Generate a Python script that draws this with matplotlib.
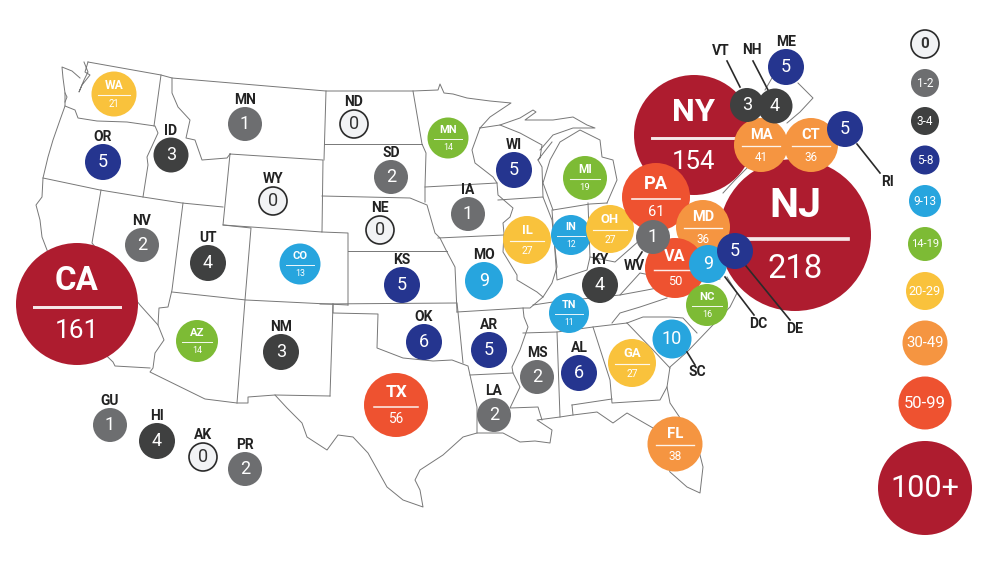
"""US map of counts per state, drawn as coloured bubbles."""

import matplotlib

matplotlib.use("Agg")
import matplotlib.pyplot as plt
from matplotlib.patches import Circle

plt.rcParams["font.family"] = ["Roboto", "DejaVu Sans"]

# drawing order matters: later bubbles sit on top
STATES = ["CA", "TX", "WA", "OR", "ID", "MN", "WY", "NV", "UT", "CO", "AZ", "NM",
          "ND", "SD", "NE", "KS", "OK", "MN", "IA", "MO", "AR", "LA", "WI", "IL",
          "MI", "IN", "OH", "KY", "TN", "MS", "AL", "GA", "FL", "SC",
          "NJ", "NY", "MA", "CT", "VT", "NH", "RI", "ME", "PA", "MD", "VA", "WV",
          "DC", "NC", "DE", "GU", "HI", "AK", "PR"]
COUNTS = [161, 56, 21, 5, 3, 1, 0, 2, 4, 13, 14, 3,
          0, 2, 0, 5, 6, 14, 1, 9, 5, 2, 5, 27,
          19, 12, 27, 4, 11, 2, 6, 27, 38, 10,
          218, 154, 41, 36, 3, 4, 5, 5, 61, 36, 50, 1,
          9, 16, 5, 1, 4, 0, 2]

LEGEND_LABELS = ["0", "1-2", "3-4", "5-8", "9-13", "14-19", "20-29", "30-49", "50-99", "100+"]
BIN_LOWER = [0, 1, 3, 5, 9, 14, 20, 30, 50, 100]
BIN_COLORS = ["#f2f3f5", "#6d6e70", "#3f4040", "#25358f", "#27a5de",
              "#7dbb35", "#f9c23c", "#f59541", "#ee5230", "#ae1c2f"]

# layout, in pixels of the 1000x569 picture
BUBBLE_X = [77, 396, 114, 103, 171, 245, 273, 142, 208, 300, 197, 281,
            354, 391, 380, 402, 424, 448, 468, 484, 489, 494, 514, 527,
            585, 571, 610, 600, 569, 537, 579, 632, 675, 672,
            795, 694, 761, 811, 747, 775, 845, 786, 656, 703, 675, 653,
            708, 707, 735, 110, 157, 203, 245]
BUBBLE_Y = [304, 405, 94, 162, 155, 124, 201, 245, 263, 264, 341, 352,
            124, 177, 230, 285, 342, 138, 214, 281, 350, 415, 170, 240,
            178, 235, 229, 285, 313, 377, 373, 363, 444, 339,
            235, 135, 145, 145, 105, 106, 129, 67, 197, 227, 268, 237,
            264, 305, 251, 425, 441, 457, 469]
BUBBLE_R = [61, 32, 22.5, 18, 17.5, 17, 15, 17, 18, 20.5, 21, 18,
            15, 17, 15, 18, 18, 20.5, 17, 19, 18, 17, 18, 24,
            22, 20, 24, 18, 20, 17, 18, 24, 27.5, 19.5,
            76, 60, 27, 27, 17, 17.5, 18, 18, 34, 27, 30, 17,
            19, 21, 18, 17, 18, 15, 17]

LEGEND_Y = [44, 83, 121, 160, 201, 244, 291, 343, 403, 488]
LEGEND_R = [15, 14, 14, 14.5, 16, 17, 19, 22.5, 26.5, 47]
LEGEND_SIZE = [11, 8.5, 8.5, 8.5, 8.5, 8, 9.2, 10.7, 12, 22]

# states whose code sits away from the bubble on a leader line
LEADERS = {
    "VT": ((721, 51), (727, 61), (740, 87)),
    "NH": ((752, 50), (753, 61), (768, 90)),
    "RI": ((887, 182), (857, 144), (880, 173)),
    "DC": ((758, 324), (725, 277), (754, 315)),
    "DE": ((795, 329), (746, 266), (790, 320)),
    "SC": ((697, 372), (687, 352), (695, 365)),
    "WV": ((634, 266), (642, 252), (637, 260)),
}

MAP_LINES = [
    # northern border and Great Lakes shore
    [(88, 62), (161, 75), (172, 78), (326, 91), (413, 91),
     (438, 90), (440, 84), (444, 93), (453, 94), (467, 98), (490, 101), (511, 103), (490, 117), (480, 128)],
    # west coast
    [(80, 78), (72, 71), (62, 67), (63, 78), (65, 93), (65, 106), (60, 120), (53, 140), (48, 157), (43, 178), (42, 197),
     (36, 205), (40, 220), (42, 237), (47, 250), (60, 285), (85, 335), (113, 362), (115, 366), (150, 368)],
    # Puget Sound
    [(88, 62), (85, 72), (90, 75), (82, 85), (79, 92), (84, 80), (88, 72), (84, 62)],
    [(65, 93), (67, 97), (65, 102)],
    # WA, OR, ID, MT
    [(65, 106), (75, 110), (78, 118), (97, 121), (127, 122), (155, 126), (158, 133), (147, 157), (148, 165), (143, 197)],
    [(161, 75), (154, 126)],
    [(43, 178), (100, 190), (143, 197), (182, 203), (223, 207)],
    [(172, 78), (172, 93), (178, 107), (190, 120), (186, 138), (195, 140), (202, 160), (227, 158), (230, 154)],
    [(326, 91), (324, 160)],
    # WY, UT, NV, AZ, NM, CO
    [(230, 154), (323, 160), (322, 232), (223, 225), (230, 154)],
    [(101, 190), (92, 243), (140, 305), (158, 325)],
    [(183, 203), (172, 290), (168, 307), (159, 308), (158, 325), (164, 340), (155, 353), (153, 368),
     (150, 372), (205, 399), (237, 403), (248, 403), (248, 397), (275, 395), (330, 396)],
    [(223, 225), (251, 228), (245, 300), (237, 403)],
    [(172, 292), (246, 300), (348, 305)],
    [(322, 232), (348, 233), (348, 305)],
    [(333, 304), (330, 396)],
    # plains
    [(324, 144), (422, 144)],
    [(413, 91), (422, 144), (426, 153), (425, 187), (425, 202)],
    [(322, 196), (410, 198), (427, 205), (435, 233), (440, 238), (447, 252), (455, 267), (457, 312)],
    [(348, 251), (447, 251)],
    [(320, 304), (456, 303)],
    [(333, 304), (333, 313), (378, 314), (377, 348), (403, 358), (433, 361), (452, 360), (468, 366), (470, 375), (477, 407), (477, 433)],
    [(457, 303), (458, 312), (463, 363)],
    # Rio Grande and gulf coast
    [(275, 395), (287, 408), (302, 423), (307, 437), (327, 450), (338, 435), (353, 437), (368, 453), (387, 487),
     (403, 500), (423, 507), (420, 490), (415, 480), (420, 470), (443, 455), (463, 437), (477, 433), (503, 433),
     (520, 442), (535, 441), (550, 443), (552, 430), (537, 420), (560, 417), (573, 415), (597, 412), (613, 423),
     (627, 413), (653, 428), (670, 472), (687, 487), (700, 493), (703, 467), (697, 443), (670, 403), (667, 387),
     (670, 367), (687, 352), (710, 328), (730, 307), (737, 293), (727, 277)],
    # MN, IA, MO, WI, IL
    [(425, 187), (497, 183)],
    [(480, 128), (472, 150), (475, 163), (493, 177), (497, 183), (498, 195), (513, 208), (510, 217), (503, 223),
     (504, 233), (503, 252), (517, 275), (517, 280), (537, 292), (543, 297), (530, 308), (523, 308), (524, 317),
     (528, 327), (520, 350), (512, 367), (513, 373), (520, 387), (510, 408), (538, 407), (542, 420)],
    [(438, 238), (504, 235)],
    [(457, 312), (523, 308)],
    [(470, 375), (513, 373)],
    [(498, 200), (543, 197), (552, 220), (557, 267), (552, 283), (543, 297)],
    # Michigan and Lake Michigan
    [(480, 128), (500, 125), (520, 133), (542, 145), (540, 158), (538, 160), (552, 142)],
    [(500, 125), (520, 118), (533, 110), (536, 112), (525, 120), (553, 120), (573, 117), (587, 125), (595, 128),
     (573, 128), (553, 135), (540, 150)],
    [(543, 197), (542, 167), (538, 160)],
    [(553, 210), (543, 183), (550, 160), (560, 142), (580, 130), (600, 140), (602, 157), (613, 160), (617, 180), (607, 203)],
    [(553, 210), (590, 204), (607, 203)],
    # IN, OH, KY, TN
    [(552, 210), (557, 280), (587, 270), (590, 257), (588, 203)],
    [(590, 257), (615, 262), (640, 240), (642, 205)],
    [(533, 305), (553, 302), (620, 295), (647, 290), (667, 286), (720, 279)],
    [(620, 295), (640, 273), (650, 275)],
    [(523, 333), (557, 332), (593, 327), (627, 323)],
    [(612, 323), (620, 313), (640, 307), (667, 298)],
    # deep south
    [(557, 332), (560, 417)],
    [(593, 327), (610, 380), (612, 403), (660, 400), (667, 387)],
    [(572, 405), (612, 399)],
    [(572, 405), (573, 415)],
    [(627, 323), (653, 350), (670, 368)],
    [(627, 323), (643, 317), (670, 317), (683, 318), (697, 333)],
    # north east, mostly under the bubbles
    [(747, 168), (735, 180), (723, 193)],
    [(798, 83), (813, 98), (800, 112), (787, 123)],
    [(765, 90), (772, 78)],
]


def bin_color(value):
    color = BIN_COLORS[0]
    for lower, candidate in zip(BIN_LOWER, BIN_COLORS):
        if value >= lower:
            color = candidate
    return color


def draw_circle(ax, x, y, r, value_color, z):
    empty = value_color == BIN_COLORS[0]
    ax.add_patch(Circle((x, y), r - (1 if empty else 0), facecolor=value_color,
                        edgecolor="#2a2a2a" if empty else "none", lw=1.2 if empty else 0, zorder=z))


fig = plt.figure(figsize=(10, 5.69), dpi=100)
ax = fig.add_axes([0, 0, 1, 1])
ax.set_xlim(0, 1000)
ax.set_ylim(569, 0)
ax.set_aspect("equal")
ax.axis("off")

for line in MAP_LINES:
    ax.plot([p[0] for p in line], [p[1] for p in line], color="#777777", lw=0.7,
            solid_joinstyle="round", zorder=1)

# leaders lie over NJ (z 44) but under the small bubbles they start from
for name, (label_at, start, end) in LEADERS.items():
    ax.plot([start[0], end[0]], [start[1], end[1]], color="#2b2b2b", lw=1.2, zorder=44.5)
    ax.text(label_at[0], label_at[1], name, ha="center", va="center", fontsize=10,
            fontweight="bold", color="#222222", zorder=500)

for i, (name, value, x, y, r) in enumerate(zip(STATES, COUNTS, BUBBLE_X, BUBBLE_Y, BUBBLE_R)):
    z = 10 + i
    draw_circle(ax, x, y, r, bin_color(value), z)
    if value > 10:
        # big bubble: code, rule and value inside
        ax.text(x, y - 0.38 * r, name, ha="center", va="center", color="white",
                fontsize=0.39 * r, fontweight="bold", zorder=z + 0.3)
        ax.plot([x - 0.7 * r, x + 0.7 * r], [y + 0.05 * r, y + 0.05 * r], color="white",
                lw=max(0.6, 0.035 * r), alpha=0.9, zorder=z + 0.2)
        ax.text(x, y + 0.45 * r, str(value), ha="center", va="center", color="white",
                fontsize=0.31 * r, zorder=z + 0.3)
    else:
        text_color = "#333333" if value == 0 else "white"
        ax.text(x, y, str(value), ha="center", va="center", color=text_color, fontsize=13, zorder=z + 0.3)
        if name not in LEADERS:
            ax.text(x, y - r - 7, name, ha="center", va="center", fontsize=10, fontweight="bold",
                    color="#222222", zorder=500)

for label, lower, y, r, size in zip(LEGEND_LABELS, BIN_LOWER, LEGEND_Y, LEGEND_R, LEGEND_SIZE):
    draw_circle(ax, 925, y, r, bin_color(lower), 5)
    if lower == 0:
        ax.text(925, y, label, ha="center", va="center", color="#333333", fontsize=size,
                fontweight="bold", zorder=6)
    else:
        ax.text(925, y, label, ha="center", va="center", color="white", fontsize=size, zorder=6)

fig.savefig("out.png", dpi=100, facecolor="white")
plt.close(fig)
